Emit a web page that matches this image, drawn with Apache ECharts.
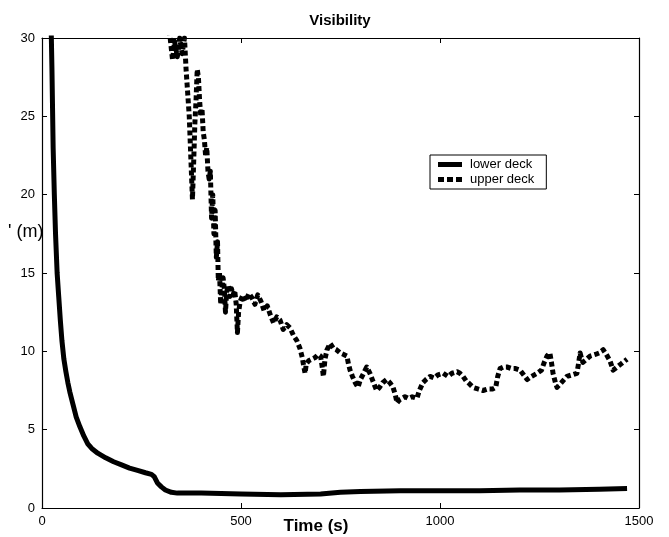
<!DOCTYPE html>
<html>
<head>
<meta charset="utf-8">
<script src="https://cdn.jsdelivr.net/npm/echarts@6/dist/echarts.min.js"></script>
<style>html,body{margin:0;padding:0;background:#fff}#c{width:669px;height:537px}</style>
</head>
<body>
<div id="c"></div>
<script>
var titleText = 'Visibility';
var xName = 'Time (s)';
var yName = "' (m)";
var seriesNames = ['lower deck', 'upper deck'];
var xTicks = [0, 500, 1000, 1500];
var yTicks = [0, 5, 10, 15, 20, 25, 30];

var lowerDeck = [[22,32],[25,28],[28,23],[31,20],[34,17.5],[38,15],[42,13.5],[46,12],[50,10.7],[55,9.5],[60,8.7],[65,8],[70,7.4],[78,6.6],[86,5.8],[95,5.2],[105,4.6],[115,4.1],[125,3.8],[140,3.5],[160,3.2],[180,2.95],[200,2.75],[220,2.55],[240,2.4],[260,2.25],[275,2.15],[282,2.0],[290,1.6],[300,1.35],[310,1.15],[325,1.0],[340,0.95],[400,0.95],[500,0.9],[600,0.85],[700,0.9],[750,1.0],[800,1.05],[900,1.1],[1000,1.1],[1100,1.1],[1200,1.15],[1300,1.15],[1400,1.2],[1470,1.25]];

var upperDeck = [[315,31],[322,30],[328,28.6],[333,29.8],[340,28.8],[346,30],[352,29],[358,30],[362,28],[366,26.5],[370,25],[373,23],[376,21],[378,19.7],[381,22],[384,24.5],[387,26],[390,28],[393,27.5],[396,26],[399,25],[402,25.5],[405,24],[408,23.5],[411,22.5],[414,23],[417,21.5],[420,21],[423,21.5],[426,18.5],[429,20],[432,17.5],[435,19],[438,16],[441,17],[443,14.5],[446,15],[449,13],[452,14],[455,14.7],[458,14],[461,12.5],[464,13.8],[468,14.2],[472,13.5],[476,14],[480,13.6],[484,13.9],[488,13],[491,11.2],[494,12.5],[498,13.2],[505,13.6],[512,13.2],[520,13.7],[528,13.4],[535,13],[542,13.6],[550,13.2],[558,12.6],[566,12.9],[574,12.3],[582,11.8],[590,12.2],[598,12],[606,11.4],[615,11.7],[623,11.5],[632,11],[640,10.7],[648,10.2],[654,9.6],[658,9.0],[661,8.6],[664,9.2],[670,9.4],[678,9.5],[686,9.6],[694,9.8],[700,9.7],[704,9.0],[707,8.4],[711,9.5],[716,10.1],[724,10.5],[732,10.2],[740,10.1],[749,9.9],[758,9.8],[766,9.7],[770,9.2],[774,8.8],[780,8.4],[787,8.0],[794,7.7],[800,8.2],[808,8.6],[816,9.0],[820,8.8],[824,8.6],[830,8.2],[836,7.8],[841,7.5],[848,7.7],[856,8.0],[866,8.2],[874,8.0],[882,7.7],[888,7.2],[892,6.7],[898,6.9],[905,7.0],[912,7.1],[920,7.0],[930,7.1],[942,7.0],[948,7.5],[957,8.0],[965,8.2],[975,8.4],[985,8.3],[995,8.5],[1008,8.6],[1020,8.4],[1030,8.6],[1043,8.7],[1050,8.6],[1058,8.4],[1066,8.1],[1075,7.9],[1083,7.7],[1095,7.6],[1108,7.5],[1120,7.6],[1133,7.6],[1140,7.7],[1145,8.4],[1151,8.9],[1160,9.0],[1168,9.0],[1180,8.9],[1190,8.9],[1201,8.8],[1210,8.5],[1219,8.2],[1230,8.4],[1244,8.6],[1255,8.8],[1262,9.3],[1269,9.7],[1276,9.9],[1280,9.3],[1284,8.6],[1290,8.0],[1294,7.7],[1305,8.0],[1319,8.4],[1332,8.5],[1344,8.6],[1348,9.2],[1352,9.9],[1356,9.5],[1359,9.3],[1368,9.5],[1377,9.7],[1390,9.8],[1400,9.9],[1410,10.1],[1418,9.8],[1427,9.4],[1435,8.8],[1445,9.0],[1455,9.2],[1470,9.5]];

var FONT = '"Liberation Sans", Arial, sans-serif';
var chart = echarts.init(document.getElementById('c'), null, {renderer: 'canvas'});

function axisBase(pos, showLabel) {
  return {
    position: pos,
    axisLine: {show: true, onZero: false, lineStyle: {color: '#000', width: 1.2}},
    axisTick: {show: true, inside: true, length: 5, lineStyle: {color: '#000'}},
    splitLine: {show: false},
    axisLabel: {show: showLabel, color: '#000', fontFamily: FONT, fontSize: 13, margin: 7,
      formatter: function (v) { return String(v); }}
  };
}

var xMain = Object.assign(axisBase('bottom', true), {
  type: 'value', min: xTicks[0], max: xTicks[xTicks.length - 1], interval: xTicks[1] - xTicks[0]
});
var xTop = Object.assign(axisBase('top', false), {
  type: 'value', min: xTicks[0], max: xTicks[xTicks.length - 1], interval: xTicks[1] - xTicks[0]
});
var yMain = Object.assign(axisBase('left', true), {
  type: 'value', min: yTicks[0], max: yTicks[yTicks.length - 1], interval: yTicks[1] - yTicks[0]
});
var yRight = Object.assign(axisBase('right', false), {
  type: 'value', min: yTicks[0], max: yTicks[yTicks.length - 1], interval: yTicks[1] - yTicks[0]
});

var lowerIcon = 'path://M0,0h24v5h-24z';
var upperIcon = 'path://M0,0h6v5h-6zM9,0h6v5h-6zM18,0h6v5h-6z';

chart.setOption({
  animation: false,
  backgroundColor: '#fff',
  title: {
    text: titleText, left: 335, top: 8, textAlign: 'center',
    textStyle: {color: '#000', fontFamily: FONT, fontSize: 15, fontWeight: 'bold'}
  },
  grid: {left: 42, right: 30, top: 38, bottom: 29, containLabel: false, outerBoundsMode: 'none'},
  legend: {
    orient: 'vertical', left: 430, top: 155,
    backgroundColor: '#fff', borderColor: '#000', borderWidth: 1,
    padding: [3, 12, 3, 8], itemGap: 2, itemWidth: 24, itemHeight: 5,
    textStyle: {color: '#000', fontFamily: FONT, fontSize: 13, padding: [0, 0, 0, 3]},
    data: [{name: seriesNames[0], icon: lowerIcon}, {name: seriesNames[1], icon: upperIcon}]
  },
  xAxis: [xMain, xTop],
  yAxis: [yMain, yRight],
  graphic: [{
    type: 'text', left: 8, top: 223,
    style: {text: yName, fill: '#000', font: '18px ' + FONT}
  }, {
    type: 'text', x: 316, y: 526,
    style: {text: xName, fill: '#000', font: 'bold 17px ' + FONT, align: 'center', verticalAlign: 'middle'}
  }],
  series: [{
    name: seriesNames[0], type: 'line', data: lowerDeck, xAxisIndex: 0, yAxisIndex: 0,
    showSymbol: false, symbol: 'none', clip: true,
    lineStyle: {color: '#000', width: 5, type: 'solid', cap: 'butt', join: 'round'},
    itemStyle: {color: '#000'}
  }, {
    name: seriesNames[1], type: 'line', data: upperDeck, xAxisIndex: 0, yAxisIndex: 0,
    showSymbol: false, symbol: 'none', clip: true,
    lineStyle: {color: '#000', width: 5, type: [5, 3], cap: 'butt', join: 'round'},
    itemStyle: {color: '#000'}
  }]
});
</script>
</body>
</html>
